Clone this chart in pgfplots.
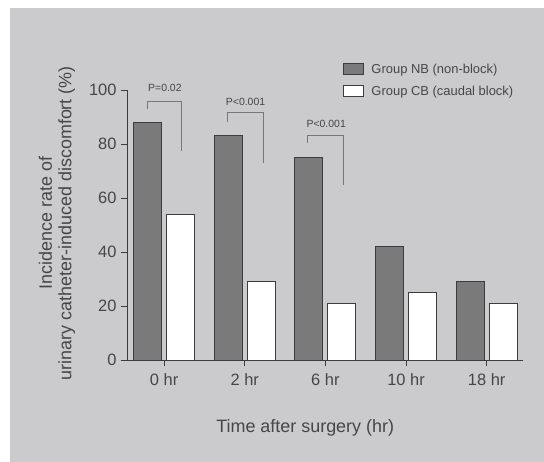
\documentclass[border=0pt]{standalone}
\usepackage{pgfplots}
\pgfplotsset{compat=1.18}
\usepackage{fontspec}
\setmainfont{Liberation Sans}
\definecolor{bg}{RGB}{203,203,205}
\definecolor{nbfill}{RGB}{122,122,122}
\definecolor{edge}{RGB}{60,60,60}
\definecolor{txt}{RGB}{70,70,70}
\definecolor{brk}{RGB}{120,120,120}
\begin{document}
\begin{tikzpicture}
\path[use as bounding box] (-127bp,-102bp) rectangle (417bp,360bp);
\fill[bg] (-117bp,-102bp) rectangle (417bp,352bp);
\begin{axis}[
  scale only axis,
  width=396bp, height=270bp,
  ymin=0, ymax=100,
  xmin=-0.46, xmax=4.45,
  axis lines=left,
  axis line style={-, edge, line width=0.9bp},
  ybar=5bp, bar width=28bp,
  xtick={0,1,2,3,4},
  xticklabels={0 hr, 2 hr, 6 hr, 10 hr, 18 hr},
  ytick={0,20,40,60,80,100},
  tick align=outside,
  major tick length=6bp,
  tick style={edge, line width=0.9bp},
  /pgf/number format/assume math mode=true,
  tick label style={font=\fontsize{16.5}{18}\selectfont, text=txt},
  xticklabel style={yshift=-4bp},
  yticklabel style={xshift=-1bp},
  xlabel={Time after surgery (hr)},
  xlabel style={at={(axis description cs:0.45,-0.252)}, anchor=center, font=\fontsize{18}{20}\selectfont, text=txt},
  ylabel={Incidence rate of\\urinary catheter-induced discomfort (\%)},
  ylabel style={at={(axis description cs:-0.177,0.507)}, anchor=center, rotate=0, align=center, font=\fontsize{18}{19.5}\selectfont, text=txt},
  legend style={at={(axis description cs:0.545,1.105)}, anchor=north west, draw=none, fill=none, inner sep=0pt, font=\fontsize{13}{15}\selectfont, text=txt, row sep=7bp, legend cell align=left},
  legend image code/.code={\draw[#1, line width=0.9bp] (0bp,-5.5bp) rectangle (20bp,5.5bp); \path[draw=none, fill=none] (0bp,0bp) -- (26bp,0bp);},
]
\addplot[fill=nbfill, draw=edge, line width=0.9bp] coordinates {(0,88) (1,83) (2,75) (3,42) (4,29)};
\addplot[fill=white, draw=edge, line width=0.9bp] coordinates {(0,54) (1,29) (2,21) (3,25) (4,21)};
\legend{Group NB (non-block), Group CB (caudal block)}
\end{axis}
\begin{axis}[
  scale only axis,
  width=396bp, height=270bp,
  ymin=0, ymax=100,
  xmin=-0.46, xmax=4.45,
  axis lines=none,
  clip=false,
]
\addplot[brk, line width=0.8bp, mark=none] coordinates {(-0.21,93) (-0.21,95.9) (0.22,95.9) (0.22,77.4)};
\addplot[brk, line width=0.8bp, mark=none] coordinates {(0.79,88.3) (0.79,91.6) (1.23,91.6) (1.23,73)};
\addplot[brk, line width=0.8bp, mark=none] coordinates {(1.78,80.2) (1.78,83.1) (2.22,83.1) (2.22,64.8)};
\node[font=\fontsize{10.5}{12}\selectfont, text=txt] at (axis cs:0.01,100.7) {P=0.02};
\node[font=\fontsize{10.5}{12}\selectfont, text=txt] at (axis cs:1.01,95.7) {P<0.001};
\node[font=\fontsize{10.5}{12}\selectfont, text=txt] at (axis cs:2.01,87.3) {P<0.001};
\end{axis}
\end{tikzpicture}
\end{document}
